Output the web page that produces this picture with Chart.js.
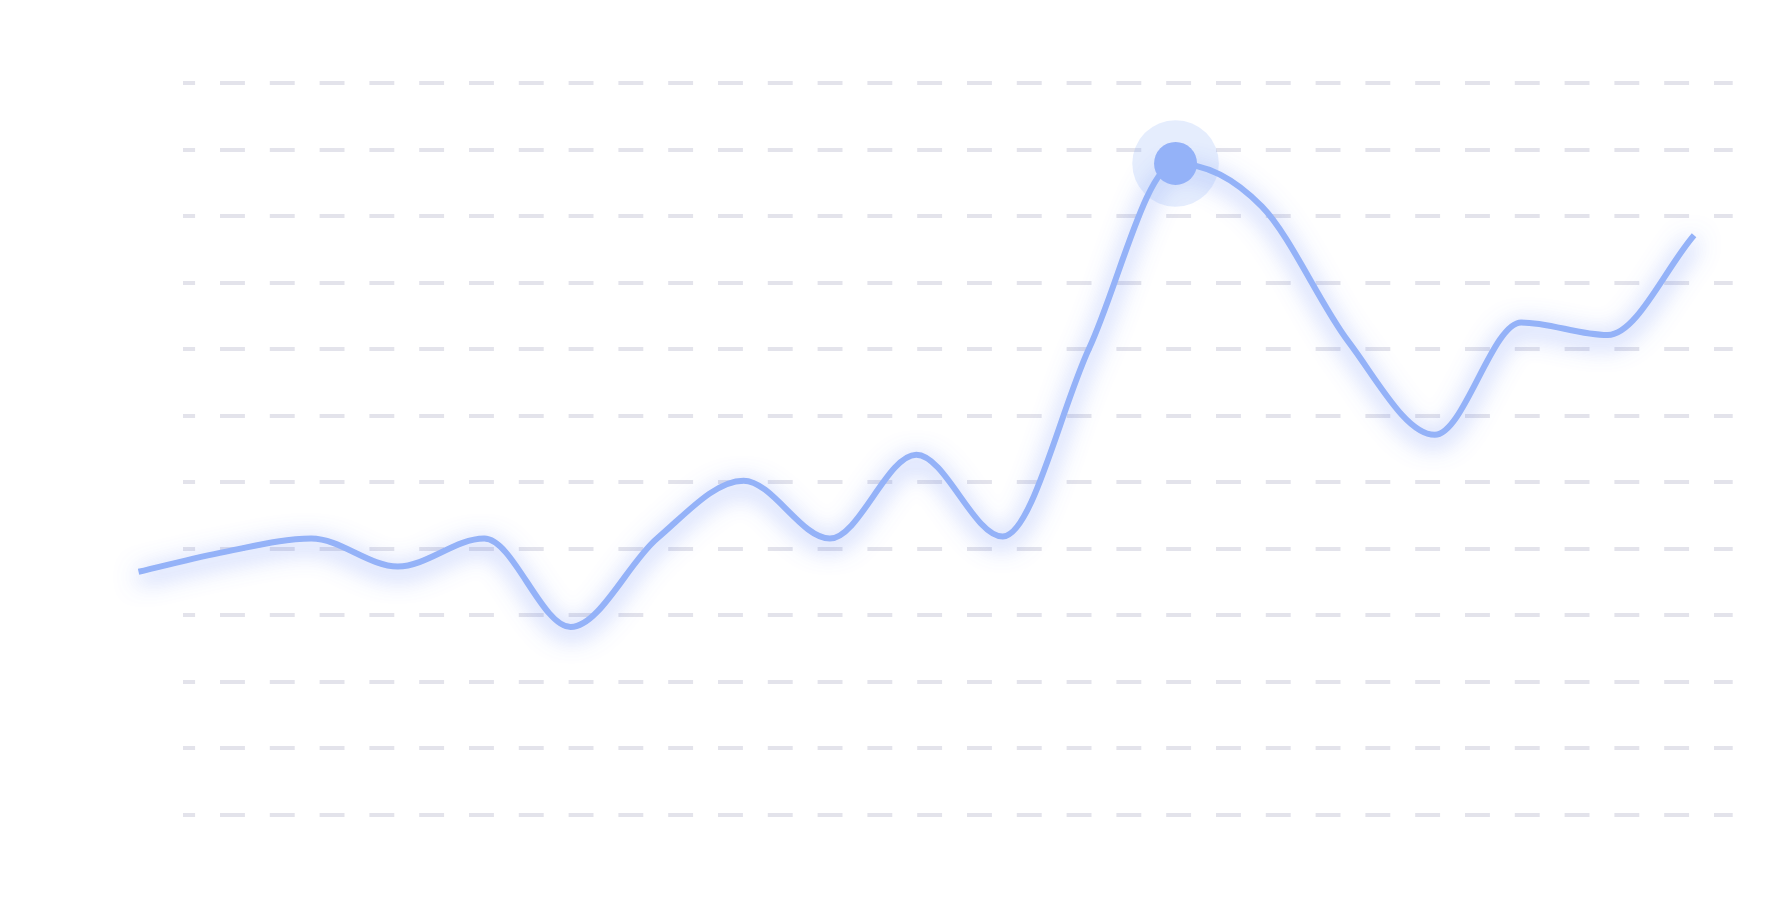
<!DOCTYPE html>
<html>
<head>
<meta charset="utf-8">
<script src="https://cdn.jsdelivr.net/npm/chart.js@4.4.1/dist/chart.umd.min.js"></script>
<style>
  html, body { margin: 0; padding: 0; background: #ffffff; overflow: hidden; }
  #wrap { width: 1776px; height: 909px; position: relative; }
  canvas { display: block; }
</style>
</head>
<body>
<div id="wrap"><canvas id="c"></canvas></div>
<script>
// Data
const categories = [0, 1, 2, 3, 4, 5, 6, 7, 8, 9, 10, 11, 12, 13, 14, 15, 16, 17, 18];
const values = [36.5, 39.5, 41.5, 37.3, 41.5, 28.2, 41.5, 50.2, 41.5, 54.1, 41.8, 70.1, 97.9, 91.4, 71.1, 57.1, 74.0, 72.1, 87.1];
const peakIndex = 12;
const yMin = 0;
const yMax = 110;
const yStep = 10;
const xMin = 0.5145;
const xMax = 18.447;

const lineColor = '#94b2f8';

const points = categories.map((c, i) => ({ x: c, y: values[i] }));
const peakOnly = categories.map((c, i) => ({ x: c, y: i === peakIndex ? values[i] : null }));

const glow = {
  id: 'glow',
  beforeDatasetDraw(chart, args) {
    if (args.index !== 0) return;
    const ctx = chart.ctx;
    ctx.save();
    ctx.shadowColor = 'rgba(70,110,245,0.7)';
    ctx.shadowBlur = 24;
    ctx.shadowOffsetX = 0;
    ctx.shadowOffsetY = 6;
  },
  afterDatasetDraw(chart, args) {
    if (args.index !== 0) return;
    chart.ctx.restore();
  }
};

new Chart(document.getElementById('c'), {
  type: 'line',
  data: {
    datasets: [
      {
        data: points,
        borderColor: lineColor,
        borderWidth: 6,
        cubicInterpolationMode: 'monotone',
        pointRadius: 0,
        fill: false,
        clip: false,
        order: 2
      },
      {
        data: peakOnly,
        showLine: false,
        pointRadius: 43.3,
        pointBackgroundColor: 'rgba(148,178,248,0.24)',
        pointBorderWidth: 0,
        clip: false,
        order: 1
      },
      {
        data: peakOnly,
        showLine: false,
        pointRadius: 21.5,
        pointBackgroundColor: lineColor,
        pointBorderWidth: 0,
        clip: false,
        order: 0
      }
    ]
  },
  options: {
    responsive: true,
    maintainAspectRatio: false,
    animation: false,
    events: [],
    layout: { padding: { left: 183, right: 0, top: 83, bottom: 94.5 } },
    plugins: { legend: { display: false }, tooltip: { enabled: false } },
    scales: {
      x: {
        type: 'linear',
        display: false,
        min: xMin,
        max: xMax
      },
      y: {
        min: yMin,
        max: yMax,
        ticks: { display: false, stepSize: yStep },
        border: { display: false, dash: [24.9, 24.9], dashOffset: 12.8 },
        grid: {
          drawTicks: false,
          color: '#e3e3eb',
          lineWidth: 4
        }
      }
    }
  },
  plugins: [glow]
});
</script>
</body>
</html>
